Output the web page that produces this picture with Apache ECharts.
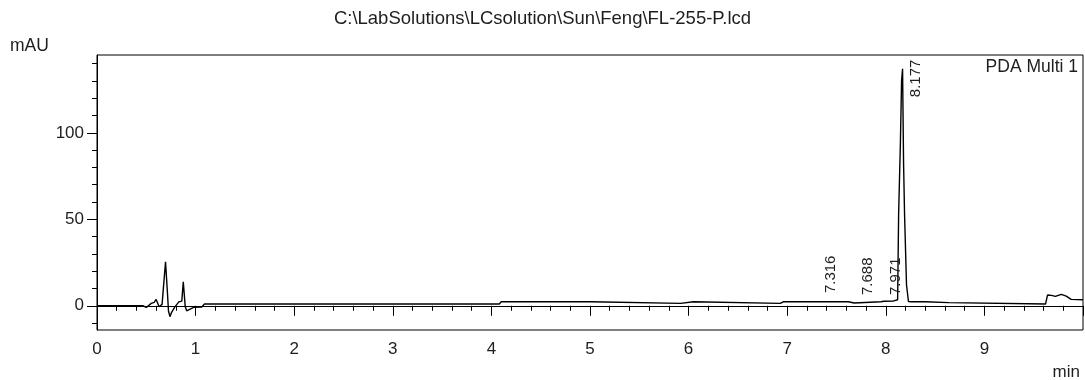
<!DOCTYPE html>
<html>
<head>
<meta charset="utf-8">
<script src="https://cdn.jsdelivr.net/npm/echarts@6/dist/echarts.min.js"></script>
<style>
html,body{margin:0;padding:0;background:#fff;}
#chart{width:1085px;height:380px;}
</style>
</head>
<body>
<div id="chart"></div>
<script>
// ---- data ----
const titleText = 'C:\\LabSolutions\\LCsolution\\Sun\\Feng\\FL-255-P.lcd';
const channelName = 'PDA Multi 1';
const times = [0, 0.47, 0.50, 0.55, 0.58, 0.60, 0.63, 0.66, 0.695, 0.705, 0.715, 0.725, 0.74, 0.755, 0.79, 0.83, 0.86, 0.875, 0.885, 0.895, 0.91, 0.93, 0.98, 1.06, 1.09,
  4.08, 4.10, 5.01, 5.03, 5.92, 5.94, 6.05, 6.07, 6.93, 6.96, 7.29, 7.31, 7.33, 7.62, 7.64, 7.68, 7.70, 7.95, 7.98, 8.08, 8.12,
  8.13, 8.148, 8.16, 8.17, 8.18, 8.19, 8.21, 8.23, 8.26, 8.40, 8.42, 8.64, 8.66, 9.62, 9.64, 9.68, 9.72, 9.78, 9.83, 9.88, 10.0];
const signal = [0, 0, -1.0, 1.4, 2.0, 3.7, -0.6, 0.8, 25.5, 24.5, 7, -3, -6.3, -4, -0.6, 2.3, 2.7, 13.9, 13.0, -0.6, -2.9, -2.5, -0.9, -0.8, 1.0,
  1.0, 2.3, 2.3, 1.4, 1.4, 2.3, 2.3, 1.4, 1.4, 2.3, 2.3, 2.9, 2.3, 2.3, 1.6, 1.6, 2.3, 2.3, 2.6, 2.8, 3.5,
  53, 94, 130, 137, 83, 53.5, 12, 2.5, 2.3, 2.3, 1.8, 1.8, 1.0, 1.0, 6.2, 6.0, 5.4, 6.6, 5.6, 3.7, 3.5];
const peakTimes = [7.316, 7.688, 7.971, 8.177];
const peakHeights = [2.7, 1.6, 1.6, 137];
const yMajorTicks = [0, 50, 100];
const yMinorTicks = [-10, 0, 10, 20, 30, 40, 50, 60, 70, 80, 90, 100, 110, 120, 130, 140];
const yMin = -14, yMax = 145, xMin = 0, xMax = 10;
// ----------------------------------------------------

const FONT = "'Liberation Sans', Arial, sans-serif";
const TXT = '#1e1e1e';
const lineData = times.map((t, i) => [t, signal[i]]);
const labelCap = 116; // keeps the tallest peak label inside the frame
const peakData = peakTimes.map((t, i) => [t, Math.min(peakHeights[i], labelCap), t.toFixed(3)]);

const chart = echarts.init(document.getElementById('chart'), null, {renderer: 'canvas'});
chart.setOption({
  animation: false,
  backgroundColor: '#fff',
  grid: {left: 97, right: 2, top: 55, bottom: 50, show: true, borderColor: '#000', borderWidth: 1},
  xAxis: {
    type: 'value', min: xMin, max: xMax, interval: 1,
    axisLine: {show: true, lineStyle: {color: '#000', width: 1}},
    axisTick: {show: true, length: 10, lineStyle: {color: '#000'}},
    minorTick: {show: true, splitNumber: 5, length: 5, lineStyle: {color: '#000'}},
    splitLine: {show: false},
    axisLabel: {margin: 11, fontSize: 17, fontFamily: FONT, color: TXT, showMaxLabel: false,
      formatter: v => (v >= xMax ? '' : String(v))}
  },
  yAxis: [{
    type: 'value', min: yMin, max: yMax, position: 'left',
    axisLine: {show: true, lineStyle: {color: '#000', width: 1}},
    axisTick: {show: true, length: 10, customValues: yMajorTicks, lineStyle: {color: '#000'}},
    axisLabel: {customValues: yMajorTicks, margin: 13, fontSize: 17, fontFamily: FONT, color: TXT},
    splitLine: {show: false}
  }, {
    type: 'value', min: yMin, max: yMax, position: 'left', offset: 0,
    axisLine: {show: false},
    axisTick: {show: true, length: 5, customValues: yMinorTicks, lineStyle: {color: '#000'}},
    axisLabel: {show: false},
    splitLine: {show: false}
  }],
  graphic: [
    {type: 'text', left: 'center', top: 9, style: {text: titleText, font: '18.5px ' + FONT, fill: TXT}},
    {type: 'text', left: 10, top: 37, style: {text: 'mAU', font: '17.5px ' + FONT, fill: TXT}},
    {type: 'text', right: 7, top: 58, style: {text: channelName, font: '17.5px ' + FONT, fill: TXT}},
    {type: 'text', right: 5, top: 364, style: {text: 'min', font: '17px ' + FONT, fill: TXT}}
  ],
  series: [{
    type: 'line', data: lineData, showSymbol: false, symbol: 'none',
    lineStyle: {color: '#000', width: 1.4}, z: 3
  }, {
    type: 'custom', data: peakData, z: 4,
    renderItem: function (params, api) {
      const p = api.coord([api.value(0), api.value(1)]);
      return {
        type: 'text', x: p[0] + 13, y: p[1] - 8, rotation: Math.PI / 2,
        style: {text: peakData[params.dataIndex][2], font: '15px ' + FONT, fill: TXT, align: 'left', verticalAlign: 'middle'}
      };
    }
  }]
});
</script>
</body>
</html>
